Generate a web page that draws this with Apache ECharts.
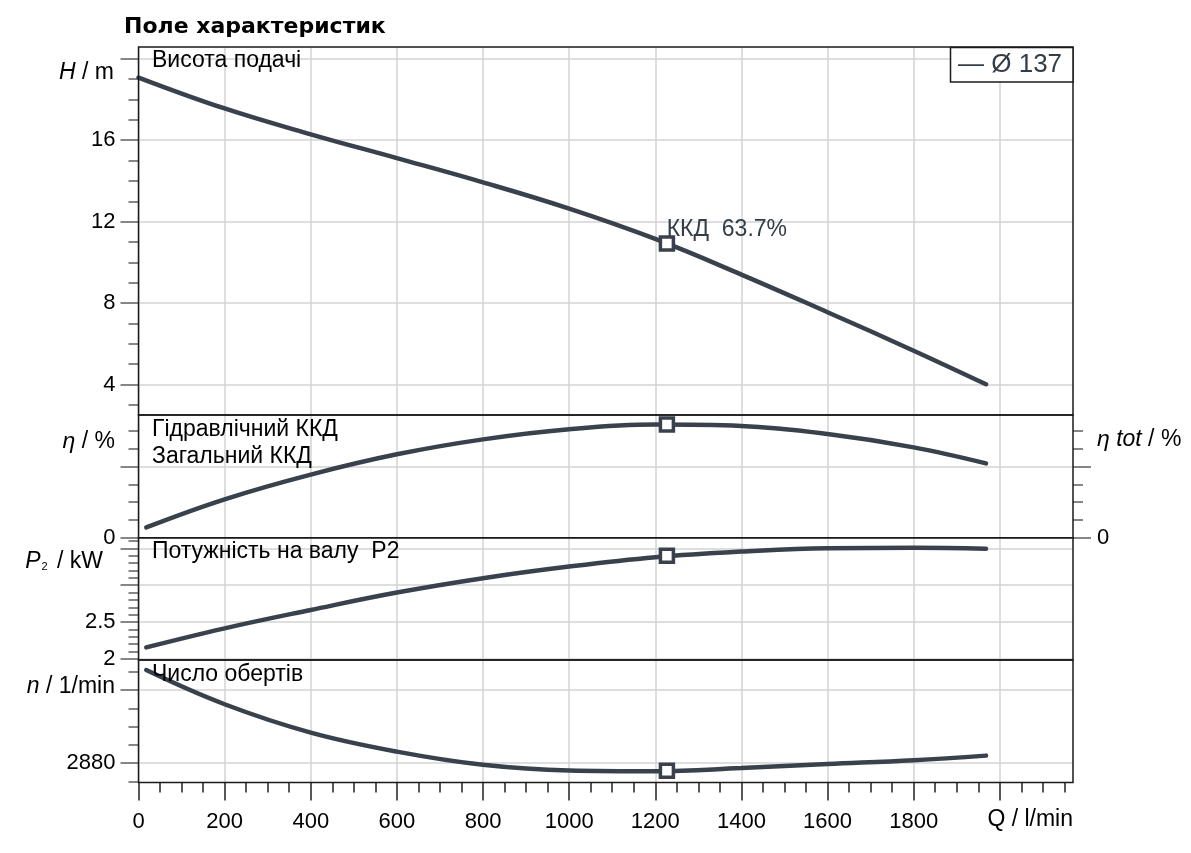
<!DOCTYPE html>
<html>
<head>
<meta charset="utf-8">
<title>Поле характеристик</title>
<script src="https://cdn.jsdelivr.net/npm/echarts@6/dist/echarts.min.js"></script>
<style>
  html, body { margin: 0; padding: 0; background: #fff; }
  #chart { width: 1191px; height: 853px; }
</style>
</head>
<body>
<div id="chart"></div>
<script>
// ---------------- data ----------------
// Q, l/min
const qHead = [0, 200, 400, 600, 800, 1000, 1200, 1400, 1600, 1800, 1968];
const qRest = [18, 200, 400, 600, 800, 1000, 1200, 1400, 1600, 1800, 1968];

// H, m
const headValues = [19.08, 17.56, 16.29, 15.12, 13.93, 12.64, 11.15, 9.40, 7.55, 5.66, 4.01];
// η, %
const etaValues = [5.8, 21.6, 35.5, 46.9, 55.3, 61.0, 63.6, 62.8, 58.3, 50.8, 41.8];
// P2, kW
const powerValues = [2.156, 2.415, 2.664, 2.90, 3.095, 3.253, 3.38, 3.457, 3.503, 3.507, 3.494];
// n, 1/min
const speedValues = [2930.9, 2912.2, 2896.7, 2886.3, 2879.1, 2876.0, 2875.6, 2877.3, 2879.5, 2881.6, 2884.1];

// точка ККД
const bepQ = 1227;
const bepHead = 10.92;
const bepEta = 63.7;
const bepPower = 3.40;
const bepSpeed = 2875.8;

// ---------------- ticks ----------------
const qMajorTicks = [0, 200, 400, 600, 800, 1000, 1200, 1400, 1600, 1800, 2000];
const qMinorTicks = [50, 100, 150, 250, 300, 350, 450, 500, 550, 650, 700, 750, 850, 900, 950,
  1050, 1100, 1150, 1250, 1300, 1350, 1450, 1500, 1550, 1650, 1700, 1750, 1850, 1900, 1950,
  2050, 2100, 2150];
const qTickLabels = [0, 200, 400, 600, 800, 1000, 1200, 1400, 1600, 1800];

const hMajorTicks = [4, 8, 12, 16, 20];
const hMinorTicks = [3, 5, 6, 7, 9, 10, 11, 13, 14, 15, 17, 18, 19];
const hTickLabels = [4, 8, 12, 16];

const etaMajorTicks = [0, 40];
const etaMinorTicks = [10, 20, 30, 50, 60];
const etaTickLabels = [0];

const p2MajorTicks = [2, 2.5, 3, 3.5];
const p2MinorTicks = [2.1, 2.2, 2.3, 2.4, 2.6, 2.7, 2.8, 2.9, 3.1, 3.2, 3.3, 3.4, 3.6];
const p2TickLabels = [2, 2.5];

const nMajorTicks = [2880, 2920];
const nMinorTicks = [2870, 2890, 2900, 2910, 2930];
const nTickLabels = [2880];

// ---------------- style ----------------
const lineColor = '#39424c';
const tickColor = '#5f5f5f';
const splitColor = '#d3d3d3';
const fontFamily = '"Liberation Sans", Arial, sans-serif';
const tickFontSize = 22;

const qMax = 2170;

// пара осей Y: великі поділки + підписи + сітка, і малі поділки
function makeYAxes(gridIndex, min, max, majors, minors, labels, position) {
    const isRight = position === 'right';
    return [
        {
            type: 'value', gridIndex: gridIndex, position: position, min: min, max: max,
            axisLine: { show: false },
            axisTick: { show: true, length: 18, customValues: majors, lineStyle: { color: tickColor, width: 1.5 } },
            axisLabel: {
                show: true, customValues: labels, margin: isRight ? 24 : 23,
                fontSize: tickFontSize, color: '#000', fontFamily: fontFamily,
                formatter: v => String(v)
            },
            splitLine: { show: !isRight, lineStyle: { color: splitColor, width: 1.5 } }
        },
        {
            type: 'value', gridIndex: gridIndex, position: position, min: min, max: max,
            axisLine: { show: false },
            axisTick: { show: true, length: 10, customValues: minors, lineStyle: { color: tickColor, width: 1.5 } },
            axisLabel: { show: false },
            splitLine: { show: false }
        }
    ];
}

function makeTopXAxis(gridIndex) {
    return {
        type: 'value', gridIndex: gridIndex, min: 0, max: qMax,
        axisLine: { show: false },
        axisTick: { show: false, customValues: qMajorTicks },
        axisLabel: { show: false },
        splitLine: { show: true, lineStyle: { color: splitColor, width: 1.5 } }
    };
}

const xAxes = [
    makeTopXAxis(0),
    makeTopXAxis(1),
    makeTopXAxis(2),
    {
        type: 'value', gridIndex: 3, position: 'bottom', min: 0, max: qMax,
        axisLine: { show: false },
        axisTick: { show: true, length: 18, customValues: qMajorTicks, lineStyle: { color: '#222', width: 1.5 } },
        axisLabel: {
            show: true, customValues: qTickLabels, margin: 28,
            fontSize: tickFontSize, color: '#000', fontFamily: fontFamily,
            formatter: v => String(v)
        },
        splitLine: { show: true, lineStyle: { color: splitColor, width: 1.5 } }
    },
    {
        type: 'value', gridIndex: 3, position: 'bottom', min: 0, max: qMax,
        axisLine: { show: false },
        axisTick: { show: true, length: 10, customValues: qMinorTicks, lineStyle: { color: '#222', width: 1.5 } },
        axisLabel: { show: false },
        splitLine: { show: false }
    }
];

const yAxes = [].concat(
    makeYAxes(0, 2.5, 20.58, hMajorTicks, hMinorTicks, hTickLabels, 'left'),      // 0,1
    makeYAxes(1, 0, 69, etaMajorTicks, etaMinorTicks, etaTickLabels, 'left'),     // 2,3
    makeYAxes(1, 0, 69, etaMajorTicks, etaMinorTicks, etaTickLabels, 'right'),    // 4,5
    makeYAxes(2, 1.985, 3.645, p2MajorTicks, p2MinorTicks, p2TickLabels, 'left'), // 6,7
    makeYAxes(3, 2869.4, 2936.4, nMajorTicks, nMinorTicks, nTickLabels, 'left')   // 8,9
);

const gridBase = { left: 138.5, right: 118, show: true, borderColor: '#1a1a1a', borderWidth: 1.5, z: 5 };
const grids = [
    Object.assign({ top: 47, height: 368 }, gridBase),
    Object.assign({ top: 415, height: 122.7 }, gridBase),
    Object.assign({ top: 537.7, height: 122.3 }, gridBase),
    Object.assign({ top: 660, height: 122.5 }, gridBase)
];

function zip(xs, ys) {
    return xs.map((x, i) => [x, ys[i]]);
}

function curve(xIdx, yIdx, xs, ys) {
    return {
        type: 'line', xAxisIndex: xIdx, yAxisIndex: yIdx,
        data: zip(xs, ys), smooth: 0.4, symbol: 'none', z: 3,
        lineStyle: { color: lineColor, width: 4.5, cap: 'round' }
    };
}

function bepMarker(xIdx, yIdx, y, label) {
    return {
        type: 'scatter', xAxisIndex: xIdx, yAxisIndex: yIdx,
        data: [[bepQ, y]], symbol: 'rect', symbolSize: 13, z: 6,
        itemStyle: { color: '#fff', borderColor: lineColor, borderWidth: 3.5, opacity: 1 },
        label: label ? {
            show: true, formatter: label, position: [8, -17],
            align: 'left', verticalAlign: 'top', opacity: 1,
            fontSize: 23, color: '#333d48', fontFamily: fontFamily
        } : { show: false }
    };
}

const series = [
    curve(0, 0, qHead, headValues),
    curve(1, 2, qRest, etaValues),
    curve(2, 6, qRest, powerValues),
    curve(3, 8, qRest, speedValues),
    bepMarker(0, 0, bepHead, 'ККД  ' + bepEta + '%'),
    bepMarker(1, 2, bepEta),
    bepMarker(2, 6, bepPower),
    bepMarker(3, 8, bepSpeed)
];

function plainText(x, y, text, opts) {
    return {
        type: 'text', x: x, y: y, z: 10,
        style: Object.assign({
            text: text, fill: '#000', fontSize: 23, fontFamily: fontFamily,
            align: 'left', verticalAlign: 'middle'
        }, opts || {})
    };
}

const nameSize = 23;
const italic = { fontStyle: 'italic', fontSize: nameSize, fontFamily: fontFamily, fill: '#000' };
const normal = { fontSize: nameSize, fontFamily: fontFamily, fill: '#000' };

function axisName(x, y, text, align) {
    return {
        type: 'text', x: x, y: y, z: 10,
        style: {
            text: text, align: align || 'right', verticalAlign: 'middle',
            fontSize: nameSize, fontFamily: fontFamily, fill: '#000',
            rich: { i: italic, n: normal, s: { fontSize: 11, fontFamily: fontFamily, fill: '#000', padding: [10, 3, 0, 1] } }
        }
    };
}

const graphics = [
    // підписи панелей
    plainText(152, 61, 'Висота подачі'),
    plainText(152, 430, 'Гідравлічний ККД'),
    plainText(152, 457, 'Загальний ККД'),
    plainText(152, 552, 'Потужність на валу  P2'),
    plainText(152, 675, 'Число обертів'),
    // назви осей
    axisName(114, 73, '{i|H}{n| / m}'),
    axisName(115, 442, '{i|η}{n| / %}'),
    axisName(103, 562, '{i|P}{s|2}{n| / kW}'),
    axisName(115, 687, '{i|n}{n| / 1/min}'),
    axisName(1097, 440, '{i|η tot}{n| / %}', 'left'),
    axisName(1073, 820, '{n|Q / l/min}'),
    // легенда
    {
        type: 'rect', z: 10,
        shape: { x: 950.5, y: 47.5, width: 122.5, height: 34.5 },
        style: { fill: '#fff', stroke: '#1a1a1a', lineWidth: 1.5 }
    },
    plainText(958, 65, '— Ø 137', { fontSize: 26, fill: '#333d48' })
];

const chart = echarts.init(document.getElementById('chart'));
chart.setOption({
    backgroundColor: '#fff',
    animation: false,
    title: {
        text: 'Поле характеристик', left: 119, top: 11,
        textStyle: { fontFamily: '"DejaVu Sans", Verdana, sans-serif', fontWeight: 'bold', fontSize: 22, color: '#000' }
    },
    grid: grids,
    xAxis: xAxes,
    yAxis: yAxes,
    series: series,
    graphic: graphics
});
</script>
</body>
</html>
